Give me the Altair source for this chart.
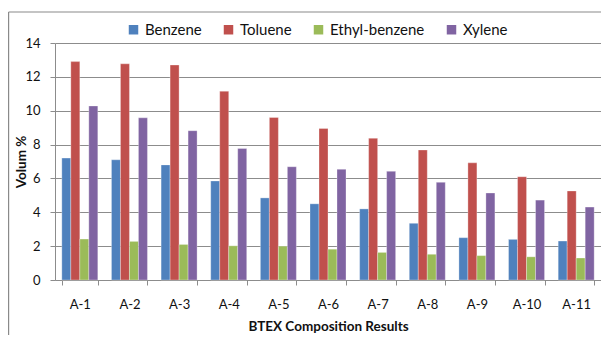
import altair as alt
import pandas as pd

samples = ["A-1", "A-2", "A-3", "A-4", "A-5", "A-6", "A-7", "A-8", "A-9", "A-10", "A-11"]
series = ["Benzene", "Toluene", "Ethyl-benzene", "Xylene"]
colors = ["#4F81BD", "#C0504D", "#9BBB59", "#8064A2"]

benzene = [7.2, 7.1, 6.8, 5.85, 4.85, 4.5, 4.2, 3.35, 2.5, 2.4, 2.3]
toluene = [12.9, 12.77, 12.7, 11.15, 9.6, 8.95, 8.37, 7.68, 6.92, 6.1, 5.26]
ethyl = [2.42, 2.28, 2.1, 2.02, 2.0, 1.82, 1.63, 1.52, 1.44, 1.37, 1.3]
xylene = [10.28, 9.58, 8.82, 7.77, 6.69, 6.54, 6.42, 5.77, 5.14, 4.72, 4.31]

rows = []
for name, vals in zip(series, [benzene, toluene, ethyl, xylene]):
    for s, v in zip(samples, vals):
        rows.append({"Sample": s, "Compound": name, "Value": v})
df = pd.DataFrame(rows)

FONT = "Lato"
GRID = "#8c8c8c"
W = 546
H = 237

bars = alt.Chart(df).mark_bar(
    stroke="#ffffff", strokeWidth=0.6, strokeOpacity=0.5
).encode(
    x=alt.X(
        "Sample:N",
        sort=samples,
        scale=alt.Scale(paddingInner=0.275, paddingOuter=0.1375),
        axis=alt.Axis(
            title="BTEX Composition Results",
            labelAngle=0,
            tickBand="extent",
            tickSize=5,
            tickColor=GRID,
            domainColor=GRID,
            labelPadding=13,
            labelBaseline="top",
            labelFontSize=13,
            labelColor="#111111",
            titleFontSize=13.5,
            titleFontWeight="bold",
            titleColor="#111111",
            titleY=46,
            titleBaseline="middle",
            grid=False,
        ),
    ),
    xOffset=alt.XOffset("Compound:N", sort=series, scale=alt.Scale(paddingInner=0, paddingOuter=0)),
    y=alt.Y(
        "Value:Q",
        scale=alt.Scale(domain=[0, 14], nice=False),
        axis=alt.Axis(
            title="Volum %",
            values=[0, 2, 4, 6, 8, 10, 12, 14],
            tickSize=5,
            tickColor=GRID,
            domainColor=GRID,
            gridColor=GRID,
            gridWidth=1,
            labelPadding=10,
            labelFontSize=13,
            labelColor="#111111",
            titleFontSize=13.5,
            titleFontWeight="bold",
            titleColor="#111111",
            titleX=-34,
            titleY=H / 2,
            titleAngle=-90,
            titleAlign="center",
            titleBaseline="middle",
        ),
    ),
    color=alt.Color(
        "Compound:N",
        sort=series,
        scale=alt.Scale(domain=series, range=colors),
        legend=alt.Legend(
            title=None,
            orient="none",
            direction="horizontal",
            legendX=71,
            legendY=-21,
            symbolType="square",
            symbolSize=90,
            symbolStrokeWidth=0,
            labelFontSize=15,
            labelColor="#111111",
            labelOffset=4,
            columnPadding=19,
        ),
    ),
)

one = alt.Data(values=[{"a": 1}])
frame_left = alt.Chart(one).mark_rule(color="#8a8a8a", strokeWidth=1.2).encode(
    x=alt.value(-46.4),
    y=alt.value(-31),
    y2=alt.value(320),
)
frame_top = alt.Chart(one).mark_rule(color="#8a8a8a", strokeWidth=1.2).encode(
    x=alt.value(-46.4),
    x2=alt.value(620),
    y=alt.value(-31),
)

chart = alt.layer(frame_left, frame_top, bars).properties(
    width=W,
    height=H,
    autosize=alt.AutoSizeParams(type="none"),
    padding={"left": 47, "top": 35, "right": 0, "bottom": 55},
).configure(
    font=FONT,
).configure_view(
    stroke=None,
)

chart.save("out.html", embed_options={"renderer": "svg", "actions": False})
